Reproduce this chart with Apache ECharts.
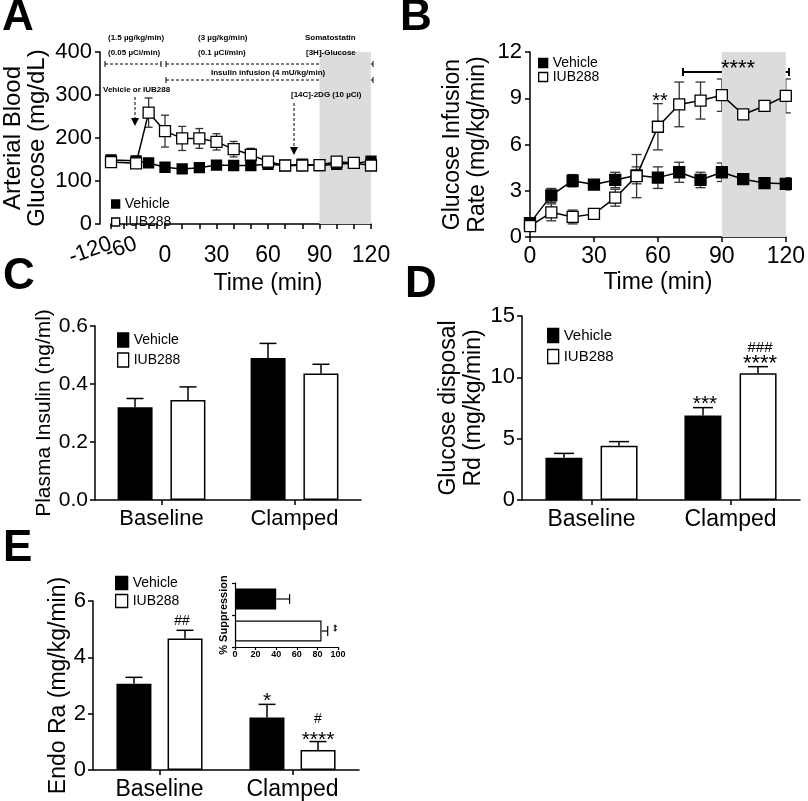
<!DOCTYPE html>
<html><head><meta charset="utf-8">
<script src="https://cdn.jsdelivr.net/npm/echarts@6/dist/echarts.min.js"></script>
<style>html,body{margin:0;padding:0;background:#fff}#c{width:808px;height:801px}</style>
</head><body><div id="c"></div>
<script>
const FONT = "'Liberation Sans', Arial, Helvetica, sans-serif";

// ---------- Panel A: arterial blood glucose ----------
const aTimePre = [-120, -60, -30];
const aTimeMain = [0, 10, 20, 30, 40, 50, 60, 70, 80, 90, 100, 110, 120];
const aVehiclePre = [149, 147, 142];
const aVehiclePreErr = [6, 5, 4];
const aIubPre = [144, 141, 259];
const aIubPreErr = [6, 10, 34];
const aVehicleMain = [132, 128, 131, 137, 136, 136, 139, 136, 139, 136, 139, 141, 146];
const aVehicleMainErr = [5, 4, 4, 4, 4, 4, 4, 4, 4, 4, 5, 4, 5];
const aIubMain = [216, 199, 199, 191, 174, 161, 145, 136, 136, 137, 145, 142, 136];
const aIubMainErr = [37, 28, 23, 19, 18, 15, 5, 4, 4, 4, 5, 4, 5];
const aPreTickLabels = [-120, -60];

// ---------- Panel B: glucose infusion rate ----------
const bTime = [0, 10, 20, 30, 40, 50, 60, 70, 80, 90, 100, 110, 120];
const bVehicle = [0.9, 2.7, 3.65, 3.4, 3.7, 4.0, 3.85, 4.2, 3.7, 4.2, 3.75, 3.5, 3.45];
const bVehicleErr = [0.3, 0.45, 0.4, 0.2, 0.5, 0.55, 0.7, 0.65, 0.5, 0.6, 0.45, 0.4, 0.4];
const bIub = [0.7, 1.6, 1.3, 1.5, 2.55, 3.95, 7.15, 8.6, 8.85, 9.2, 7.95, 8.5, 9.15];
const bIubErr = [0.2, 0.55, 0.45, 0.15, 0.55, 1.4, 1.5, 1.45, 1.2, 1.05, 1.0, 1.15, 1.1];

// ---------- Bar panels ----------
const barCategories = ['Baseline', 'Clamped'];
const cVehicle = [0.32, 0.49];
const cVehicleErr = [0.03, 0.05];
const cIub = [0.345, 0.436];
const cIubErr = [0.045, 0.032];

const dVehicle = [3.45, 6.88];
const dVehicleErr = [0.35, 0.65];
const dIub = [4.43, 10.33];
const dIubErr = [0.33, 0.54];

const eVehicle = [3.06, 1.86];
const eVehicleErr = [0.23, 0.47];
const eIub = [4.67, 0.71];
const eIubErr = [0.29, 0.30];

const insetCategories = ['Vehicle', 'IUB288'];
const insetValues = [40, 84];
const insetErr = [13, 6];

// ---------- helpers ----------
const axLine = {show: true, lineStyle: {color: '#000', width: 1.5}};
const axTick = {show: true, length: 5, lineStyle: {color: '#000', width: 1.5}};
function lbl(size, extra) { return Object.assign({color: '#000', fontFamily: FONT, fontSize: size}, extra || {}); }

function vErr(xi, yi, xs, ys, es, cap, color) {
  return {
    type: 'custom', xAxisIndex: xi, yAxisIndex: yi, z: 1, silent: true,
    data: xs.map((x, i) => [x, ys[i], es[i]]),
    renderItem(params, api) {
      const x = api.value(0), y = api.value(1), e = api.value(2);
      const t = api.coord([x, y + e]), b = api.coord([x, y - e]);
      const h = cap / 2, st = {stroke: color, lineWidth: 1.3};
      return {type: 'group', children: [
        {type: 'line', shape: {x1: t[0], y1: t[1], x2: b[0], y2: b[1]}, style: st},
        {type: 'line', shape: {x1: t[0] - h, y1: t[1], x2: t[0] + h, y2: t[1]}, style: st},
        {type: 'line', shape: {x1: b[0] - h, y1: b[1], x2: b[0] + h, y2: b[1]}, style: st}
      ]};
    }
  };
}
function barErr(xi, yi, vals, errs, dx, cap) {
  return {
    type: 'custom', xAxisIndex: xi, yAxisIndex: yi, z: 1, silent: true,
    data: vals.map((v, i) => [barCategories[i], v, errs[i]]),
    renderItem(params, api) {
      const c = api.coord([api.value(0), api.value(1)]);
      const t = api.coord([api.value(0), api.value(1) + api.value(2)]);
      const x = c[0] + dx, h = cap / 2, st = {stroke: '#000', lineWidth: 1.5};
      return {type: 'group', children: [
        {type: 'line', shape: {x1: x, y1: c[1], x2: x, y2: t[1]}, style: st},
        {type: 'line', shape: {x1: x - h, y1: t[1], x2: x + h, y2: t[1]}, style: st}
      ]};
    }
  };
}
function lineSeries(name, xi, yi, xs, ys, filled, size) {
  return {
    type: 'line', name, xAxisIndex: xi, yAxisIndex: yi, z: 3,
    data: xs.map((x, i) => [x, ys[i]]),
    symbol: 'rect', symbolSize: size,
    itemStyle: {color: filled ? '#000' : '#fff', borderColor: '#000', borderWidth: 1.3},
    lineStyle: {color: '#000', width: 1.5},
    emphasis: {disabled: true}
  };
}
function barSeries(name, xi, yi, vals, filled, bw, gap) {
  return {
    type: 'bar', name, xAxisIndex: xi, yAxisIndex: yi, z: 2,
    data: vals, barWidth: bw, barGap: gap,
    itemStyle: {color: filled ? '#000' : '#fff', borderColor: '#000', borderWidth: 1.5},
    emphasis: {disabled: true}
  };
}
function legendFor(left, top, iw, ih, fs, lh, gap) {
  return {
    left, top, orient: 'vertical', itemWidth: iw, itemHeight: ih, itemGap: gap,
    selectedMode: false,
    textStyle: {color: '#000', fontFamily: FONT, fontSize: fs, lineHeight: lh},
    data: [
      {name: 'Vehicle', icon: 'rect', itemStyle: {color: '#000', borderColor: '#000', borderWidth: 1.3}},
      {name: 'IUB288', icon: 'rect', itemStyle: {color: '#fff', borderColor: '#000', borderWidth: 1.3}}
    ]
  };
}
function txt(text, x, y, font, align, va, extra) {
  return Object.assign({type: 'text', x, y, z: 10, style: {text, font, fill: '#000', textAlign: align || 'left', textVerticalAlign: va || 'middle'}}, extra || {});
}
function dline(x1, x2, y) {
  const st = {stroke: '#000', lineWidth: 1, lineDash: [3, 2]};
  const s2 = {stroke: '#000', lineWidth: 1};
  return [
    {type: 'line', shape: {x1, y1: y, x2, y2: y}, style: st},
    {type: 'line', shape: {x1, y1: y - 3, x2: x1, y2: y + 3}, style: s2},
    {type: 'line', shape: {x1: x2, y1: y - 3, x2, y2: y + 3}, style: s2}
  ];
}
function arrow(x, y1, y2) {
  return [
    {type: 'line', shape: {x1: x, y1, x2: x, y2: y2 - 7}, style: {stroke: '#000', lineWidth: 1, lineDash: [3, 2]}},
    {type: 'polygon', shape: {points: [[x - 4, y2 - 8], [x + 4, y2 - 8], [x, y2]]}, style: {fill: '#000'}}
  ];
}

const small = 'bold 8px ' + FONT;
const letter = 'bold 44px ' + FONT;
let graphic = [
  txt('A', 2, -4, letter, 'left', 'top'),
  txt('B', 400, -4, letter, 'left', 'top'),
  txt('C', 3, 255, letter, 'left', 'top'),
  txt('D', 405, 263, letter, 'left', 'top'),
  txt('E', 3, 527, letter, 'left', 'top'),
  // Panel A protocol annotations
  txt('(1.5 \u00b5g/kg/min)', 108, 38, small),
  txt('(0.05 \u00b5Ci/min)', 108, 53, small),
  txt('(3 \u00b5g/kg/min)', 198, 38, small),
  txt('(0.1 \u00b5Ci/min)', 198, 53, small),
  txt('Somatostatin', 305, 38, small),
  txt('[3H]-Glucose', 306, 53, small),
  txt('Insulin infusion (4 mU/kg/min)', 211, 73, small),
  txt('Vehicle or IUB288', 103, 90, small),
  txt('[14C]-2DG (10 \u00b5Ci)', 291, 95, small),
  ...dline(105, 161, 64), ...dline(166, 373, 64), ...dline(166, 373, 80),
  ...arrow(135, 97, 126), ...arrow(294, 103, 155),
  // Panel B significance
  txt('**', 660, 101, '20px ' + FONT, 'center'),
  txt('****', 738, 69, '22px ' + FONT, 'center'),
  {type: 'line', shape: {x1: 683, y1: 72, x2: 789, y2: 72}, style: {stroke: '#000', lineWidth: 2}},
  {type: 'line', shape: {x1: 683, y1: 68, x2: 683, y2: 76}, style: {stroke: '#000', lineWidth: 2}},
  {type: 'line', shape: {x1: 789, y1: 68, x2: 789, y2: 76}, style: {stroke: '#000', lineWidth: 2}},
  // Panel D
  txt('***', 705, 404, '21px ' + FONT, 'center'),
  txt('###', 760, 348, '15px ' + FONT, 'center'),
  txt('****', 760, 364, '22px ' + FONT, 'center'),
  // Panel E
  txt('##', 182, 621, '14px ' + FONT, 'center'),
  txt('*', 267, 701, '21px ' + FONT, 'center'),
  txt('#', 318, 719, '14px ' + FONT, 'center'),
  txt('****', 318, 740, '21px ' + FONT, 'center'),
  txt('**', 333, 628, 'bold 9px ' + FONT, 'center', 'middle', {rotation: -Math.PI / 2})
];

const option = {
  animation: false,
  backgroundColor: '#fff',
  textStyle: {fontFamily: FONT},
  grid: [
    {left: 108, top: 52, width: 49, height: 172},   // A pre
    {left: 165, top: 52, width: 206, height: 172},  // A main
    {left: 530, top: 52, width: 258, height: 185},  // B
    {left: 95, top: 326, width: 266, height: 174},  // C
    {left: 522, top: 316, width: 278, height: 184}, // D
    {left: 93, top: 601, width: 266, height: 170},  // E
    {left: 235, top: 583, width: 103, height: 64}   // E inset
  ],
  xAxis: [
    {gridIndex: 0, type: 'value', min: -120, max: -10, interval: 30, offset: 13,
     axisLine: axLine, axisTick: axTick, splitLine: {show: false},
     axisLabel: lbl(22, {rotate: 20, margin: 6, formatter: v => aPreTickLabels.includes(v) ? String(v) : ''})},
    {gridIndex: 1, type: 'value', min: 0, max: 120, interval: 30, offset: 13,
     axisLine: axLine, axisTick: axTick, splitLine: {show: false},
     minorTick: {show: true, splitNumber: 3, length: 5, lineStyle: {color: '#000', width: 1.5}},
     axisLabel: lbl(23, {margin: 7}),
     name: 'Time (min)', nameLocation: 'middle', nameGap: 35, nameTextStyle: lbl(23)},
    {gridIndex: 2, type: 'value', min: 0, max: 120, interval: 30,
     axisLine: axLine, axisTick: axTick, splitLine: {show: false},
     axisLabel: lbl(23, {margin: 8}),
     name: 'Time (min)', nameLocation: 'middle', nameGap: 34, nameTextStyle: lbl(23)},
    {gridIndex: 3, type: 'category', data: barCategories,
     axisLine: axLine, axisTick: Object.assign({alignWithLabel: true}, axTick), axisLabel: lbl(22, {margin: 8})},
    {gridIndex: 4, type: 'category', data: barCategories,
     axisLine: axLine, axisTick: Object.assign({alignWithLabel: true}, axTick), axisLabel: lbl(23, {margin: 8})},
    {gridIndex: 5, type: 'category', data: barCategories,
     axisLine: axLine, axisTick: Object.assign({alignWithLabel: true}, axTick), axisLabel: lbl(23, {margin: 8})},
    {gridIndex: 6, type: 'value', min: 0, max: 100, interval: 20,
     axisLine: {show: true, lineStyle: {color: '#000', width: 1.2}},
     axisTick: {show: true, length: 3, lineStyle: {color: '#000', width: 1.2}},
     splitLine: {show: false}, axisLabel: lbl(9, {fontWeight: 'bold', margin: 3})}
  ],
  yAxis: [
    {gridIndex: 0, type: 'value', min: 0, max: 400, interval: 100, offset: 11,
     axisLine: axLine, axisTick: axTick, splitLine: {show: false}, axisLabel: lbl(22, {margin: 8}),
     name: 'Arterial Blood\nGlucose (mg/dL)', nameLocation: 'middle', nameGap: 51,
     nameTextStyle: lbl(24, {lineHeight: 24})},
    {gridIndex: 1, type: 'value', min: 0, max: 400, show: false},
    {gridIndex: 2, type: 'value', min: 0, max: 12, interval: 3,
     axisLine: axLine, axisTick: axTick, splitLine: {show: false}, axisLabel: lbl(22, {margin: 8}),
     name: 'Glucose Infusion\nRate (mg/kg/min)', nameLocation: 'middle', nameGap: 40,
     nameTextStyle: lbl(23, {lineHeight: 25})},
    {gridIndex: 3, type: 'value', min: 0, max: 0.6, interval: 0.2,
     axisLine: axLine, axisTick: axTick, splitLine: {show: false},
     axisLabel: lbl(21, {margin: 7, formatter: v => v.toFixed(1)}),
     name: 'Plasma Insulin (ng/ml)', nameLocation: 'middle', nameGap: 29, nameTextStyle: lbl(21)},
    {gridIndex: 4, type: 'value', min: 0, max: 15, interval: 5,
     axisLine: axLine, axisTick: axTick, splitLine: {show: false}, axisLabel: lbl(22, {margin: 7}),
     name: 'Glucose disposal\nRd (mg/kg/min)', nameLocation: 'middle', nameGap: 33,
     nameTextStyle: lbl(23, {lineHeight: 25})},
    {gridIndex: 5, type: 'value', min: 0, max: 6, interval: 2,
     axisLine: axLine, axisTick: axTick, splitLine: {show: false}, axisLabel: lbl(22, {margin: 7}),
     name: 'Endo Ra (mg/kg/min)', nameLocation: 'middle', nameGap: 10, nameTextStyle: lbl(23)},
    {gridIndex: 6, type: 'category', data: insetCategories, inverse: true,
     axisLine: {show: true, lineStyle: {color: '#000', width: 1.2}},
     axisTick: {show: true, length: 3, lineStyle: {color: '#000', width: 1.2}},
     axisLabel: {show: false},
     name: '% Suppression', nameLocation: 'middle', nameGap: 6,
     nameTextStyle: lbl(11, {fontWeight: 'bold'})}
  ],
  legend: [
    legendFor(106, 191, 8, 8, 14, 16, 2),
    legendFor(533, 51, 9, 9, 14, 14, 0),
    legendFor(112, 327, 11, 14, 14, 16, 4),
    legendFor(542, 322, 11, 14, 15, 17, 4),
    legendFor(110, 570, 12, 13, 14, 16, 2)
  ],
  series: [
    // shading
    {type: 'line', xAxisIndex: 1, yAxisIndex: 1, data: [], z: 0, silent: true,
     markArea: {silent: true, itemStyle: {color: '#dcdcdc'}, data: [[{xAxis: 90}, {xAxis: 120}]]}},
    {type: 'line', xAxisIndex: 2, yAxisIndex: 2, data: [], z: 0, silent: true,
     markArea: {silent: true, itemStyle: {color: '#dcdcdc'}, data: [[{xAxis: 90}, {xAxis: 120}]]}},
    // Panel A
    vErr(0, 0, aTimePre, aVehiclePre, aVehiclePreErr, 8, '#333'),
    vErr(0, 0, aTimePre, aIubPre, aIubPreErr, 8, '#333'),
    vErr(1, 1, aTimeMain, aVehicleMain, aVehicleMainErr, 8, '#333'),
    vErr(1, 1, aTimeMain, aIubMain, aIubMainErr, 8, '#333'),
    lineSeries('Vehicle', 0, 0, aTimePre, aVehiclePre, true, 10),
    lineSeries('IUB288', 0, 0, aTimePre, aIubPre, false, 11),
    lineSeries('Vehicle', 1, 1, aTimeMain, aVehicleMain, true, 10),
    lineSeries('IUB288', 1, 1, aTimeMain, aIubMain, false, 11),
    // Panel B
    vErr(2, 2, bTime, bVehicle, bVehicleErr, 10, '#333'),
    vErr(2, 2, bTime, bIub, bIubErr, 10, '#333'),
    lineSeries('Vehicle', 2, 2, bTime, bVehicle, true, 11),
    lineSeries('IUB288', 2, 2, bTime, bIub, false, 11),
    // Panel C
    barSeries('Vehicle', 3, 3, cVehicle, true, 35, '51%'),
    barSeries('IUB288', 3, 3, cIub, false, 35, '51%'),
    barErr(3, 3, cVehicle, cVehicleErr, -26.5, 17),
    barErr(3, 3, cIub, cIubErr, 26.5, 17),
    // Panel D
    barSeries('Vehicle', 4, 4, dVehicle, true, 37, '49%'),
    barSeries('IUB288', 4, 4, dIub, false, 37, '49%'),
    barErr(4, 4, dVehicle, dVehicleErr, -27.5, 20),
    barErr(4, 4, dIub, dIubErr, 27.5, 20),
    // Panel E
    barSeries('Vehicle', 5, 5, eVehicle, true, 35, '46%'),
    barSeries('IUB288', 5, 5, eIub, false, 35, '46%'),
    barErr(5, 5, eVehicle, eVehicleErr, -25.5, 17),
    barErr(5, 5, eIub, eIubErr, 25.5, 17),
    // Inset
    {type: 'bar', xAxisIndex: 6, yAxisIndex: 6, barWidth: 21, z: 2,
     data: insetValues.map((v, i) => ({value: v, itemStyle: {color: i === 0 ? '#000' : '#fff', borderColor: '#000', borderWidth: 1.2}})),
     emphasis: {disabled: true}},
    {type: 'custom', xAxisIndex: 6, yAxisIndex: 6, z: 1, silent: true,
     data: insetValues.map((v, i) => [v, insetCategories[i], insetErr[i]]),
     renderItem(params, api) {
       const c = api.coord([api.value(0), api.value(1)]);
       const e = api.coord([api.value(0) + api.value(2), api.value(1)]);
       const st = {stroke: '#000', lineWidth: 1.2};
       return {type: 'group', children: [
         {type: 'line', shape: {x1: c[0], y1: c[1], x2: e[0], y2: c[1]}, style: st},
         {type: 'line', shape: {x1: e[0], y1: c[1] - 5, x2: e[0], y2: c[1] + 5}, style: st}
       ]};
     }}
  ],
  graphic: graphic
};

const chart = echarts.init(document.getElementById('c'), null, {renderer: 'canvas'});
chart.setOption(option);
// connect the pre-treatment segment to time 0 across the axis break
const lastPre = aTimePre.length - 1;
const conn = [
  [chart.convertToPixel({gridIndex: 0}, [aTimePre[lastPre], aVehiclePre[lastPre]]), chart.convertToPixel({gridIndex: 1}, [aTimeMain[0], aVehicleMain[0]])],
  [chart.convertToPixel({gridIndex: 0}, [aTimePre[lastPre], aIubPre[lastPre]]), chart.convertToPixel({gridIndex: 1}, [aTimeMain[0], aIubMain[0]])]
];
conn.forEach(p => graphic.push({type: 'line', z: 1, shape: {x1: p[0][0], y1: p[0][1], x2: p[1][0], y2: p[1][1]}, style: {stroke: '#000', lineWidth: 1.5}}));
option.graphic = graphic;
chart.setOption(option, true);
</script></body></html>
